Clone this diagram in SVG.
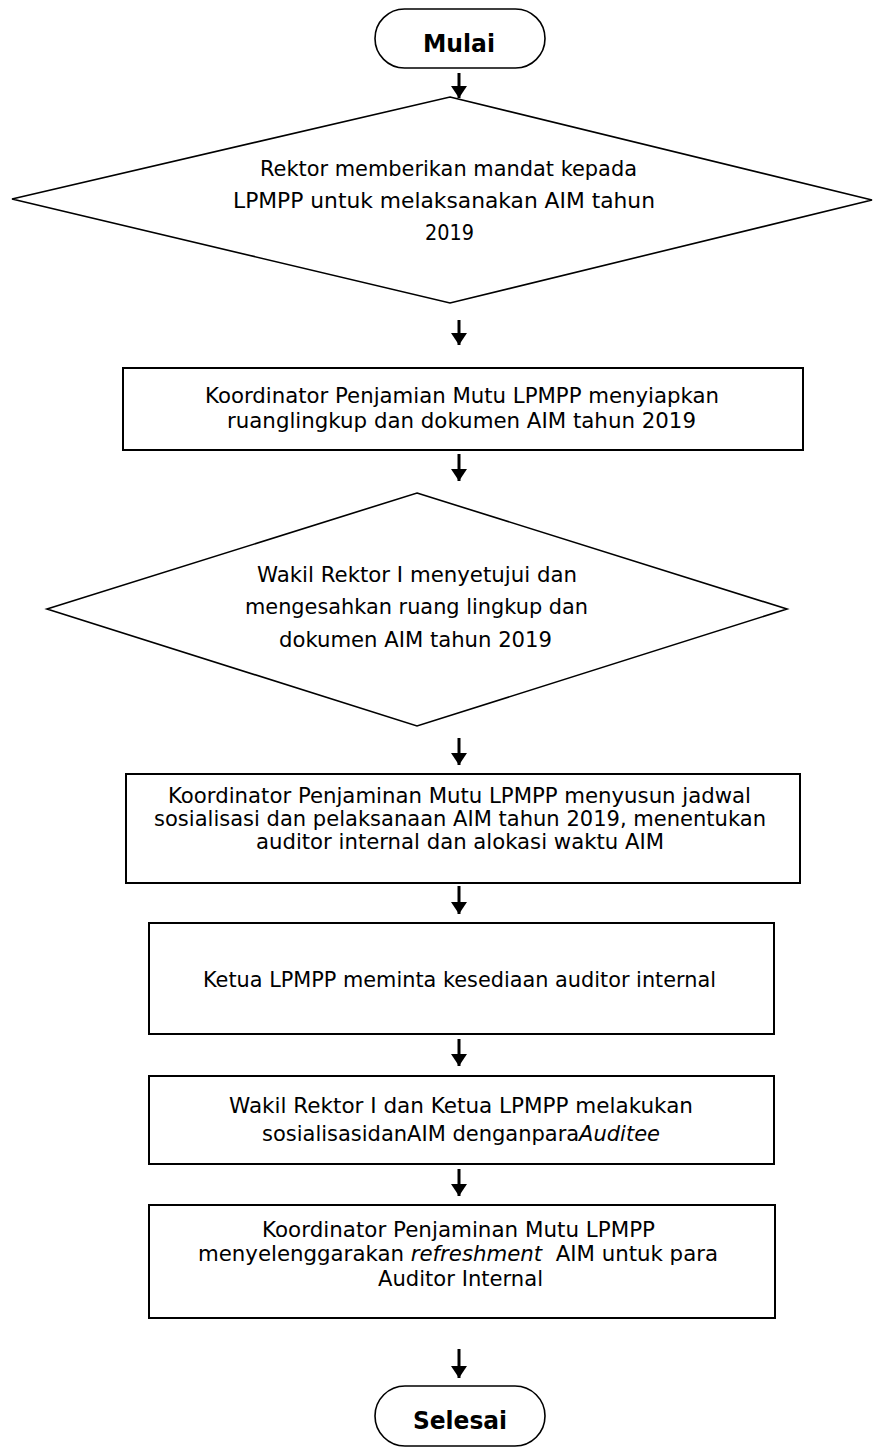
<svg xmlns="http://www.w3.org/2000/svg" width="874" height="1456" viewBox="0 0 874 1456">
<style>
.term{fill:#fff;stroke:#000;stroke-width:1.6}
.dia{fill:#fff;stroke:#000;stroke-width:1.6}
.box{fill:#fff;stroke:#000;stroke-width:2}
.t{font-family:"DejaVu Sans","Liberation Sans",sans-serif;font-size:22px;fill:#000}
.b{font-family:"DejaVu Sans","Liberation Sans",sans-serif;font-size:24px;font-weight:bold;fill:#000}
.i{font-style:italic}
.arr{stroke:#000;stroke-width:3;fill:none}
</style>
<defs>
<marker id="ah" viewBox="0 0 12 16" markerWidth="12" markerHeight="16" refX="12" refY="8" orient="auto" markerUnits="userSpaceOnUse">
<path d="M0,0 L12,8 L0,16 z" fill="#000"/>
</marker>
</defs>
<rect width="874" height="1456" fill="#fff"/>
<g id="connectors">
<line class="arr" x1="459" y1="73" x2="459" y2="98" marker-end="url(#ah)"/>
<line class="arr" x1="459" y1="320" x2="459" y2="345" marker-end="url(#ah)"/>
<line class="arr" x1="459" y1="454" x2="459" y2="481" marker-end="url(#ah)"/>
<line class="arr" x1="459" y1="738" x2="459" y2="765" marker-end="url(#ah)"/>
<line class="arr" x1="459" y1="886" x2="459" y2="914" marker-end="url(#ah)"/>
<line class="arr" x1="459" y1="1039" x2="459" y2="1066" marker-end="url(#ah)"/>
<line class="arr" x1="459" y1="1169" x2="459" y2="1196" marker-end="url(#ah)"/>
<line class="arr" x1="459" y1="1349" x2="459" y2="1378" marker-end="url(#ah)"/>
</g>
<g id="mulai">
<rect class="term" x="375" y="9" width="170" height="59" rx="29.5"/>
<text class="b" x="423" y="52" textLength="72" lengthAdjust="spacingAndGlyphs">Mulai</text>
</g>
<g id="d1">
<polygon class="dia" points="450,97 872,200 450,303 12,199"/>
<text class="t" x="260" y="176" textLength="377" lengthAdjust="spacingAndGlyphs">Rektor memberikan mandat kepada</text>
<text class="t" x="233" y="208" textLength="422" lengthAdjust="spacingAndGlyphs">LPMPP untuk melaksanakan AIM tahun</text>
<text class="t" x="425" y="240" textLength="49" lengthAdjust="spacingAndGlyphs">2019</text>
</g>
<g id="box1">
<rect class="box" x="123" y="368" width="680" height="82"/>
<text class="t" x="205" y="403" textLength="514" lengthAdjust="spacingAndGlyphs">Koordinator Penjamian Mutu LPMPP menyiapkan</text>
<text class="t" x="227" y="428" textLength="469" lengthAdjust="spacingAndGlyphs">ruanglingkup dan dokumen AIM tahun 2019</text>
</g>
<g id="d2">
<polygon class="dia" points="417,493 787,609 417,726 47,609"/>
<text class="t" x="257" y="582" textLength="320" lengthAdjust="spacingAndGlyphs">Wakil Rektor I menyetujui dan</text>
<text class="t" x="245" y="614" textLength="343" lengthAdjust="spacingAndGlyphs">mengesahkan ruang lingkup dan</text>
<text class="t" x="279" y="647" textLength="273" lengthAdjust="spacingAndGlyphs">dokumen AIM tahun 2019</text>
</g>
<g id="box2">
<rect class="box" x="126" y="774" width="674" height="109"/>
<text class="t" x="168" y="803" textLength="583" lengthAdjust="spacingAndGlyphs">Koordinator Penjaminan Mutu LPMPP menyusun jadwal</text>
<text class="t" x="154" y="826" textLength="612" lengthAdjust="spacingAndGlyphs">sosialisasi dan pelaksanaan AIM tahun 2019, menentukan</text>
<text class="t" x="256" y="849" textLength="408" lengthAdjust="spacingAndGlyphs">auditor internal dan alokasi waktu AIM</text>
</g>
<g id="box3">
<rect class="box" x="149" y="923" width="625" height="111"/>
<text class="t" x="203" y="987" textLength="513" lengthAdjust="spacingAndGlyphs">Ketua LPMPP meminta kesediaan auditor internal</text>
</g>
<g id="box4">
<rect class="box" x="149" y="1076" width="625" height="88"/>
<text class="t" x="229" y="1113" textLength="464" lengthAdjust="spacingAndGlyphs">Wakil Rektor I dan Ketua LPMPP melakukan</text>
<text class="t" x="262" y="1141" textLength="398" lengthAdjust="spacingAndGlyphs">sosialisasidanAIM denganpara<tspan class="i">Auditee</tspan></text>
</g>
<g id="box5">
<rect class="box" x="149" y="1205" width="626" height="113"/>
<text class="t" x="262" y="1237" textLength="393" lengthAdjust="spacingAndGlyphs">Koordinator Penjaminan Mutu LPMPP</text>
<text class="t" x="198" y="1261" textLength="520" lengthAdjust="spacingAndGlyphs">menyelenggarakan <tspan class="i">refreshment</tspan>&#160; AIM untuk para</text>
<text class="t" x="378" y="1286" textLength="165" lengthAdjust="spacingAndGlyphs">Auditor Internal</text>
</g>
<g id="selesai">
<rect class="term" x="375" y="1386" width="170" height="60" rx="30"/>
<text class="b" x="413" y="1429" textLength="94" lengthAdjust="spacingAndGlyphs">Selesai</text>
</g>
</svg>
